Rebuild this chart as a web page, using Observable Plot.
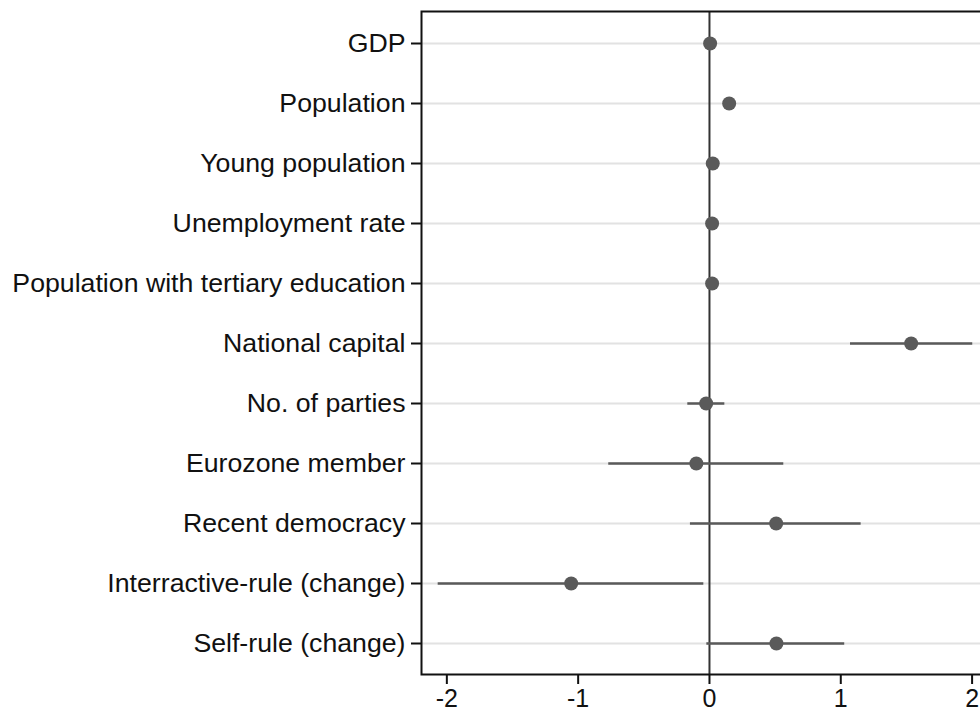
<!DOCTYPE html>
<html>
<head>
<meta charset="utf-8">
<script src="https://cdn.jsdelivr.net/npm/d3@7"></script>
<script src="https://cdn.jsdelivr.net/npm/@observablehq/plot@0.6"></script>
<style>
  html, body { margin: 0; padding: 0; background: #fff; }
  #chart { width: 980px; height: 713px; overflow: hidden; }
</style>
</head>
<body>
<div id="chart"></div>
<script>
// Coefficient estimates with confidence intervals, one row per covariate
const labels = [
  "GDP",
  "Population",
  "Young population",
  "Unemployment rate",
  "Population with tertiary education",
  "National capital",
  "No. of parties",
  "Eurozone member",
  "Recent democracy",
  "Interractive-rule (change)",
  "Self-rule (change)"
];
const estimate = [0.005, 0.15, 0.025, 0.02, 0.02, 1.536, -0.025, -0.10, 0.508, -1.053, 0.51];
const lower    = [0.0,   0.13, 0.01,  0.005, 0.005, 1.074, -0.165, -0.767, -0.145, -2.066, -0.02];
const upper    = [0.01,  0.17, 0.04,  0.035, 0.035, 2.005, 0.117, 0.566, 1.155, -0.043, 1.03];
const xTicks = [-2, -1, 0, 1, 2];

const rows = labels.map((label, i) => ({label, est: estimate[i], lo: lower[i], hi: upper[i]}));

const W = 980, H = 713;
const mLeft = 421, mRight = 0, mTop = 11, mBottom = 39;
const innerW = W - mLeft - mRight, innerH = H - mTop - mBottom;
const ink = "#5a5a5a";

const chart = Plot.plot({
  width: W,
  height: H,
  marginLeft: mLeft,
  marginRight: mRight,
  marginTop: mTop,
  marginBottom: mBottom,
  style: {fontFamily: "'Liberation Sans', Arial, Helvetica, sans-serif", fontSize: "26px", color: "#111", background: "#fff"},
  x: {domain: [-2.193, 2.064]},
  y: {type: "point", domain: labels, padding: 0.5},
  marks: [
    // light horizontal guide per covariate
    Plot.ruleY(labels, {stroke: "#e2e2e2", strokeWidth: 2}),
    // zero reference
    Plot.ruleX([0], {stroke: "#333", strokeWidth: 2}),
    // confidence intervals
    Plot.ruleY(rows, {y: "label", x1: "lo", x2: "hi", stroke: ink, strokeWidth: 2.4}),
    // point estimates
    Plot.dot(rows, {x: "est", y: "label", r: 7, fill: ink, stroke: "none"}),
    Plot.axisX({ticks: xTicks, tickFormat: d => String(d), tickSize: 10, tickPadding: 5, strokeWidth: 2, label: null, fontSize: 25}),
    Plot.axisY({tickSize: 10, tickPadding: 6, strokeWidth: 2, label: null, fontSize: 26.7}),
    // plot border: top, bottom and left edges (right edge hidden)
    Plot.frame({stroke: "#111", strokeWidth: 2, strokeDasharray: `${innerW} ${innerH} ${innerW + innerH}`})
  ]
});

document.getElementById("chart").appendChild(chart);
</script>
</body>
</html>
